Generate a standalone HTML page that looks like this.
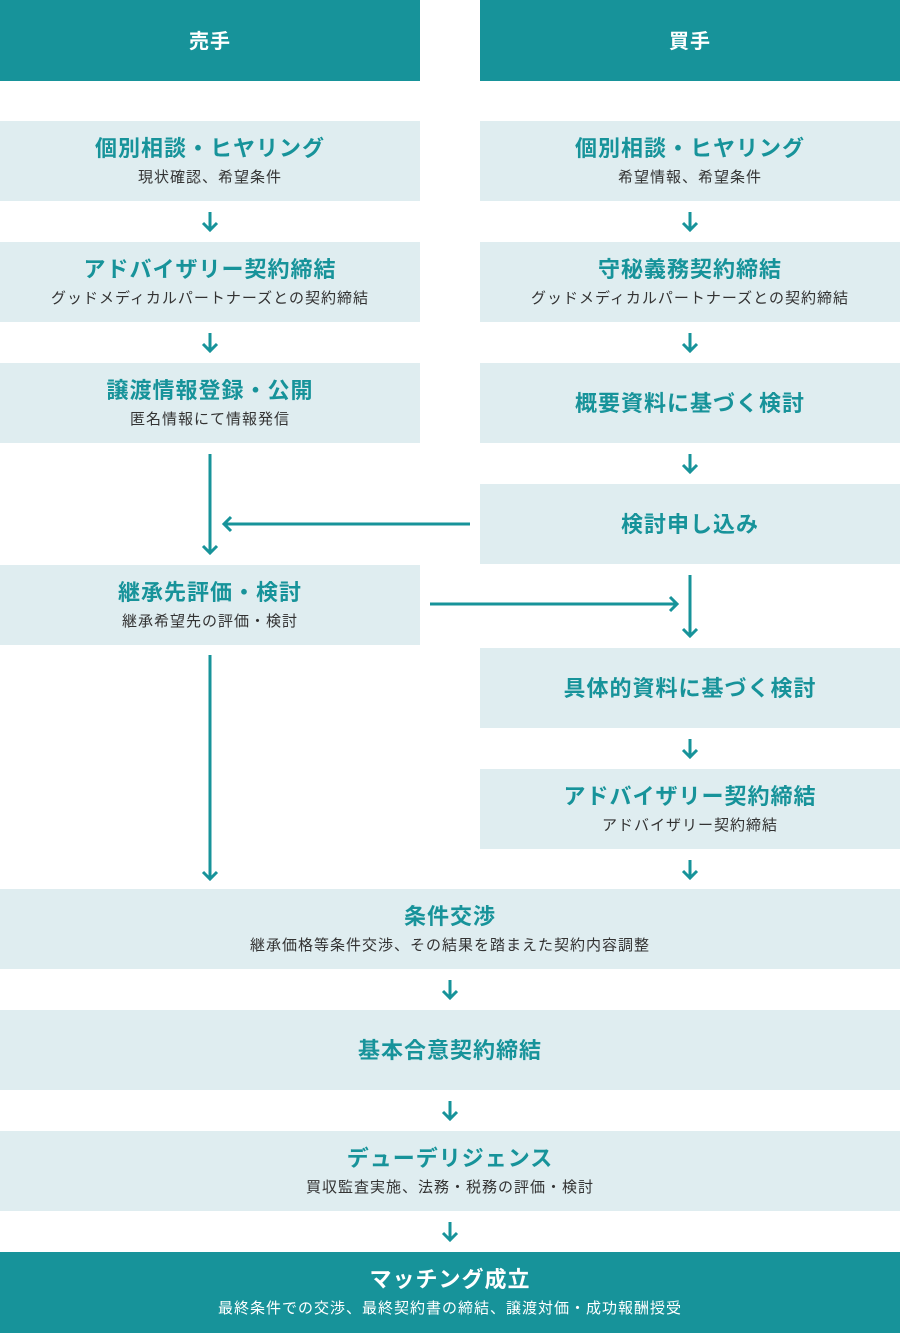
<!DOCTYPE html>
<html><head><meta charset="utf-8"><style>
body{margin:0;width:900px;height:1333px;position:relative;background:#fff;font-family:"Liberation Sans","Noto Sans CJK JP",sans-serif;overflow:hidden}
.b{position:absolute;background:#dfedf0;text-align:center}
.h{background:#17939a;color:#fff}
.t{position:absolute;left:0;right:0;font-size:22px;font-weight:bold;color:#17939a;letter-spacing:1px;line-height:30px}
.s{position:absolute;left:0;right:0;font-size:15px;color:#333;line-height:20px;letter-spacing:1px}
.h .t,.h .s{color:#fff}
svg{position:absolute;left:0;top:0}
</style></head><body>
<div class="b h" style="left:0;top:0;width:420px;height:81px"><div class="t" style="top:27px;font-size:20px">売手</div></div>
<div class="b h" style="left:480px;top:0;width:420px;height:81px"><div class="t" style="top:27px;font-size:20px">買手</div></div>

<div class="b" style="left:0;top:121px;width:420px;height:80px"><div class="t" style="top:13px">個別相談・ヒヤリング</div><div class="s" style="top:47px">現状確認、希望条件</div></div>
<div class="b" style="left:480px;top:121px;width:420px;height:80px"><div class="t" style="top:13px">個別相談・ヒヤリング</div><div class="s" style="top:47px">希望情報、希望条件</div></div>

<div class="b" style="left:0;top:242px;width:420px;height:80px"><div class="t" style="top:13px">アドバイザリー契約締結</div><div class="s" style="top:47px">グッドメディカルパートナーズとの契約締結</div></div>
<div class="b" style="left:480px;top:242px;width:420px;height:80px"><div class="t" style="top:13px">守秘義務契約締結</div><div class="s" style="top:47px">グッドメディカルパートナーズとの契約締結</div></div>

<div class="b" style="left:0;top:363px;width:420px;height:80px"><div class="t" style="top:13px">譲渡情報登録・公開</div><div class="s" style="top:47px">匿名情報にて情報発信</div></div>
<div class="b" style="left:480px;top:363px;width:420px;height:80px"><div class="t" style="top:26px">概要資料に基づく検討</div></div>

<div class="b" style="left:480px;top:484px;width:420px;height:80px"><div class="t" style="top:26px">検討申し込み</div></div>
<div class="b" style="left:0;top:565px;width:420px;height:80px"><div class="t" style="top:13px">継承先評価・検討</div><div class="s" style="top:47px">継承希望先の評価・検討</div></div>

<div class="b" style="left:480px;top:648px;width:420px;height:80px"><div class="t" style="top:26px">具体的資料に基づく検討</div></div>
<div class="b" style="left:480px;top:769px;width:420px;height:80px"><div class="t" style="top:13px">アドバイザリー契約締結</div><div class="s" style="top:47px">アドバイザリー契約締結</div></div>

<div class="b" style="left:0;top:889px;width:900px;height:80px"><div class="t" style="top:13px">条件交渉</div><div class="s" style="top:47px">継承価格等条件交渉、その結果を踏まえた契約内容調整</div></div>
<div class="b" style="left:0;top:1010px;width:900px;height:80px"><div class="t" style="top:26px">基本合意契約締結</div></div>
<div class="b" style="left:0;top:1131px;width:900px;height:80px"><div class="t" style="top:13px">デューデリジェンス</div><div class="s" style="top:47px">買収監査実施、法務・税務の評価・検討</div></div>
<div class="b h" style="left:0;top:1252px;width:900px;height:81px"><div class="t" style="top:13px">マッチング成立</div><div class="s" style="top:47px">最終条件での交渉、最終契約書の締結、譲渡対価・成功報酬授受</div></div>

<svg width="900" height="1333" fill="none" stroke="#17939a" stroke-width="3">
<g>
<path d="M210 212V230M203 223L210 230L217 223"/>
<path d="M690 212V230M683 223L690 230L697 223"/>
<path d="M210 333V351M203 344L210 351L217 344"/>
<path d="M690 333V351M683 344L690 351L697 344"/>
<path d="M690 454V472M683 465L690 472L697 465"/>
<path d="M210 454V553M203 546L210 553L217 546"/>
<path d="M470 524H224M231 517L224 524L231 531"/>
<path d="M430 604H677M670 597L677 604L670 611"/>
<path d="M690 575V636M683 629L690 636L697 629"/>
<path d="M690 739V757M683 750L690 757L697 750"/>
<path d="M210 655V879M203 872L210 879L217 872"/>
<path d="M690 860V878M683 871L690 878L697 871"/>
<path d="M450 980V998M443 991L450 998L457 991"/>
<path d="M450 1101V1119M443 1112L450 1119L457 1112"/>
<path d="M450 1222V1240M443 1233L450 1240L457 1233"/>
</g>
</svg>
</body></html>
